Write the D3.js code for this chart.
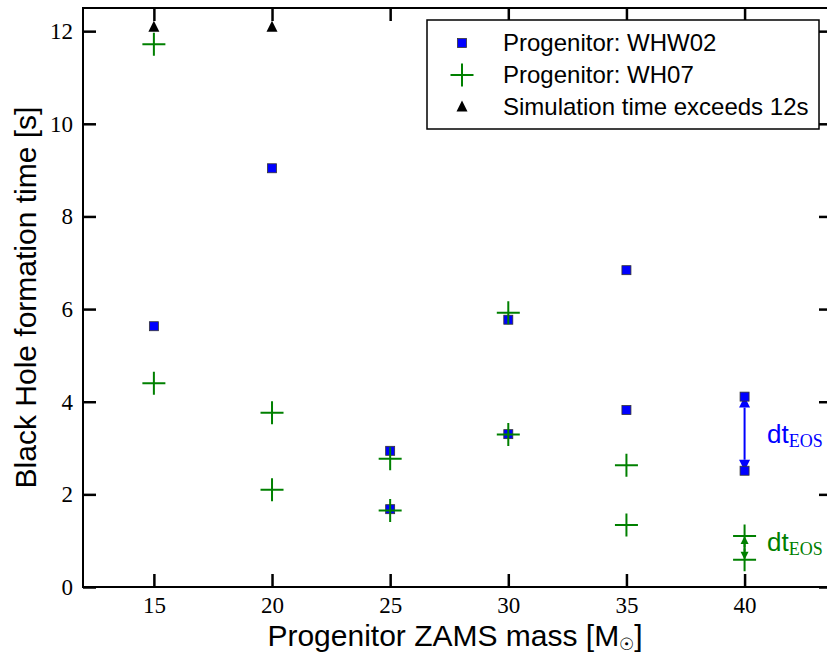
<!DOCTYPE html>
<html>
<head>
<meta charset="utf-8">
<script src="https://cdn.jsdelivr.net/npm/d3@7"></script>
<style>
  body { margin: 0; background: #fff; }
  .tick-label { font-family: "Liberation Serif", "DejaVu Serif", serif; font-size: 23px; fill: #000; }
  .axis-title { font-family: "Liberation Sans", Arial, sans-serif; font-size: 30px; fill: #000; }
  .legend-text { font-family: "Liberation Sans", Arial, sans-serif; font-size: 24px; fill: #000; }
</style>
</head>
<body>
<script>
// data
const whw02Mass = [15, 20, 25, 25, 30, 30, 35, 35, 40, 40];
const whw02Time = [5.63, 9.04, 2.94, 1.68, 5.77, 3.30, 6.84, 3.82, 4.11, 2.51];

const wh07Mass = [15, 15, 20, 20, 25, 25, 30, 30, 35, 35, 40, 40];
const wh07Time = [11.72, 4.40, 3.76, 2.10, 2.77, 1.65, 5.92, 3.29, 2.63, 1.34, 1.10, 0.59];

const exceedMass = [15, 20];
const exceedTime = [12.08, 12.08];

// dt_EOS arrows at 40 Msun: [mass, from, to]
const dtBlue = [40, 4.11, 2.51];
const dtGreen = [40, 1.10, 0.59];

const xTicks = [15, 20, 25, 30, 35, 40];
const yTicks = [0, 2, 4, 6, 8, 10, 12];

const legendLabels = ['Progenitor: WHW02', 'Progenitor: WH07', 'Simulation time exceeds 12s'];

const W = 827, H = 653;
const margin = { top: 8, right: -5, bottom: 66, left: 83 };

const svg = d3.select('body').append('svg')
    .attr('width', W)
    .attr('height', H);

const x = d3.scaleLinear()
  .domain([12, 43.7])
  .range([margin.left, W - margin.right]);

const y = d3.scaleLinear()
  .domain([0, 12.5])
  .range([H - margin.bottom, margin.top]);

const blue = '#0000ff';
const green = '#008000';
const tickLen = 13;

// axes with inward ticks on all four sides
const axisBottom = d3.axisBottom(x).tickValues(xTicks).tickSize(-tickLen).tickPadding(10).tickFormat(d3.format('d'));
const axisTop = d3.axisTop(x).tickValues(xTicks).tickSize(-tickLen).tickFormat('');
const axisLeft = d3.axisLeft(y).tickValues(yTicks).tickSize(-tickLen).tickPadding(10).tickFormat(d3.format('d'));
const axisRight = d3.axisRight(y).tickValues(yTicks).tickSize(-tickLen).tickFormat('');

function styleAxis(g) {
  g.select('.domain').attr('stroke', '#000').attr('stroke-width', 2);
  g.selectAll('.tick line').attr('stroke', '#000').attr('stroke-width', 2.5);
  g.selectAll('.tick text').attr('class', 'tick-label').attr('fill', '#000');
}

svg.append('g').attr('transform', `translate(0,${y(0)})`).call(axisBottom).call(styleAxis);
svg.append('g').attr('transform', `translate(0,${y(12.5)})`).call(axisTop).call(styleAxis);
svg.append('g').attr('transform', `translate(${x(12)},0)`).call(axisLeft).call(styleAxis);
svg.append('g').attr('transform', `translate(${x(43.7)},0)`).call(axisRight).call(styleAxis);

svg.selectAll('.domain').attr('d', null);
svg.append('rect')
  .attr('x', x(12)).attr('y', y(12.5))
  .attr('width', x(43.7) - x(12)).attr('height', y(0) - y(12.5))
  .attr('fill', 'none').attr('stroke', '#000').attr('stroke-width', 2);

// axis titles
const xt = svg.append('text')
  .attr('class', 'axis-title')
  .attr('x', 455).attr('y', 646)
  .attr('text-anchor', 'middle');
xt.append('tspan').text('Progenitor ZAMS mass [M');
xt.append('tspan').attr('font-size', 17).attr('dy', 4).text('\u2609');
xt.append('tspan').attr('dy', -4).text(']');

svg.append('text')
  .attr('class', 'axis-title')
  .attr('transform', `translate(36,${(y(0) + y(12.5)) / 2}) rotate(-90)`)
  .attr('text-anchor', 'middle')
  .text('Black Hole formation time [s]');

// symbol helpers
function plusPath(s) {
  const h = s / 2;
  return `M${-h},0H${h}M0,${-h}V${h}`;
}
function triPath(w, h) {
  return `M0,${-h * 0.6}L${w / 2},${h * 0.4}L${-w / 2},${h * 0.4}Z`;
}

// dt_EOS arrows
function drawArrow(d, color, head, width) {
  const [m, a, b] = d;
  const g = svg.append('g');
  g.append('line')
    .attr('x1', x(m)).attr('x2', x(m))
    .attr('y1', y(a) + head).attr('y2', y(b) - head)
    .attr('stroke', color).attr('stroke-width', width);
  g.append('path')
    .attr('d', `M${x(m)},${y(a)}L${x(m) + head * 0.5},${y(a) + head}L${x(m) - head * 0.5},${y(a) + head}Z`)
    .attr('fill', color);
  g.append('path')
    .attr('d', `M${x(m)},${y(b)}L${x(m) + head * 0.5},${y(b) - head}L${x(m) - head * 0.5},${y(b) - head}Z`)
    .attr('fill', color);
}
drawArrow(dtBlue, blue, 11, 2);
drawArrow(dtGreen, green, 8, 2);

function dtLabel(color, tx, ty) {
  const t = svg.append('text')
    .attr('x', tx).attr('y', ty)
    .attr('fill', color)
    .attr('font-family', 'Liberation Sans, Arial, sans-serif')
    .attr('font-size', 26);
  t.append('tspan').text('dt');
  t.append('tspan')
    .attr('font-family', 'Liberation Serif, serif')
    .attr('font-size', 18)
    .attr('dy', 4)
    .text('EOS');
}
dtLabel(blue, 767, 443);
dtLabel(green, 767, 551);

// WHW02 squares
svg.append('g').selectAll('rect')
  .data(whw02Mass.map((m, i) => [m, whw02Time[i]]))
  .join('rect')
    .attr('x', d => x(d[0]) - 4.5)
    .attr('y', d => y(d[1]) - 4.5)
    .attr('width', 9).attr('height', 9)
    .attr('fill', blue)
    .attr('stroke', '#333').attr('stroke-width', 0.8);

// WH07 crosses
svg.append('g').selectAll('path')
  .data(wh07Mass.map((m, i) => [m, wh07Time[i]]))
  .join('path')
    .attr('transform', d => `translate(${x(d[0])},${y(d[1])})`)
    .attr('d', plusPath(23))
    .attr('stroke', green).attr('stroke-width', 2)
    .attr('fill', 'none');

// simulation time exceeded
svg.append('g').selectAll('path')
  .data(exceedMass.map((m, i) => [m, exceedTime[i]]))
  .join('path')
    .attr('transform', d => `translate(${x(d[0])},${y(d[1])})`)
    .attr('d', triPath(11, 11))
    .attr('fill', '#000');

// legend
const lg = svg.append('g');
lg.append('rect')
  .attr('x', 427).attr('y', 20)
  .attr('width', 392).attr('height', 109)
  .attr('fill', '#fff').attr('stroke', '#000').attr('stroke-width', 1.5);

const rowY = [43, 75, 107];
lg.append('rect')
  .attr('x', 462 - 4.5).attr('y', rowY[0] - 4.5)
  .attr('width', 9).attr('height', 9)
  .attr('fill', blue).attr('stroke', '#333').attr('stroke-width', 0.8);
lg.append('path')
  .attr('transform', `translate(462,${rowY[1]})`)
  .attr('d', plusPath(23))
  .attr('stroke', green).attr('stroke-width', 2);
lg.append('path')
  .attr('transform', `translate(462,${rowY[2]})`)
  .attr('d', triPath(11, 11))
  .attr('fill', '#000');

lg.selectAll('text.legend-text')
  .data(legendLabels)
  .join('text')
    .attr('class', 'legend-text')
    .attr('x', 503)
    .attr('y', (d, i) => rowY[i] + 8)
    .text(d => d);
</script>
</body>
</html>
